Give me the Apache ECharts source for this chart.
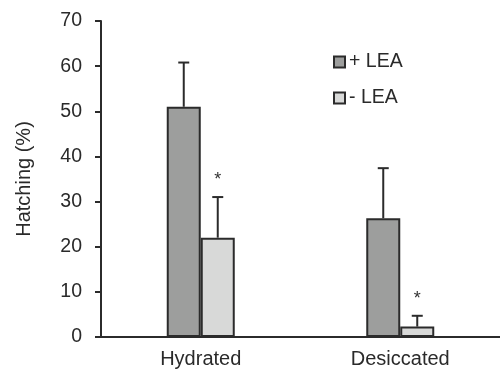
<!DOCTYPE html>
<html>
<head>
<meta charset="utf-8">
<script src="https://cdn.jsdelivr.net/npm/echarts@6/dist/echarts.min.js"></script>
<style>
  html, body { margin: 0; padding: 0; background: #fff; }
  #chart { width: 500px; height: 375px; }
</style>
</head>
<body>
<div id="chart"></div>
<script>
// values
const categories = ["Hydrated", "Desiccated"];
const seriesNames = ["+ LEA", "- LEA"];
const plusLea = [51, 26.3];
const minusLea = [22, 2.3];
const plusErr = [9.8, 11.1];
const minusErr = [9, 2.4];
const plusSig = ["", ""];
const minusSig = ["*", "*"];
const yTicks = [0, 10, 20, 30, 40, 50, 60, 70];

const chart = echarts.init(document.getElementById("chart"));
const BAR_W = 34;
const ink = "#2b2b2b";
const font = "'Liberation Sans', Arial, sans-serif";

// error bar + asterisk drawn at the top of each bar
function errorSeries(values, errs, sigs, side) {
  return {
    type: "custom",
    silent: true,
    z: 5,
    data: values.map((v, i) => [i, v, errs[i]]),
    renderItem: function (params, api) {
      const i = api.value(0);
      const top = api.coord([i, api.value(1)]);
      const hi = api.coord([i, api.value(1) + api.value(2)]);
      const x = top[0] + side * BAR_W / 2;
      const style = { stroke: ink, lineWidth: 2 };
      const children = [
        { type: "line", shape: { x1: x, y1: top[1], x2: x, y2: hi[1] }, style: style },
        { type: "line", shape: { x1: x - 5.5, y1: hi[1], x2: x + 5.5, y2: hi[1] }, style: style }
      ];
      if (sigs[i]) {
        children.push({
          type: "text",
          style: {
            text: sigs[i], x: x, y: hi[1] - 8,
            textAlign: "center", textVerticalAlign: "bottom",
            font: "18px " + font, fill: "#333"
          }
        });
      }
      return { type: "group", children: children };
    }
  };
}

const option = {
  animation: false,
  textStyle: { fontFamily: font },
  grid: { left: 101, right: -5, top: 21, bottom: 38 },
  legend: {
    orient: "vertical",
    left: 328,
    top: 47,
    itemWidth: 11,
    itemHeight: 11,
    itemGap: 16,
    icon: "rect",
    textStyle: { fontSize: 19.5, color: "#2a2a2a", padding: [0, 0, 0, -1] },
    data: seriesNames
  },
  xAxis: {
    type: "category",
    data: categories,
    axisLine: { lineStyle: { color: ink, width: 2 } },
    axisTick: { length: 6, lineStyle: { color: ink, width: 2 } },
    axisLabel: { fontSize: 20, color: "#2a2a2a", margin: 12 }
  },
  yAxis: {
    type: "value",
    min: yTicks[0],
    max: yTicks[yTicks.length - 1],
    interval: 10,
    name: "Hatching (%)",
    nameLocation: "middle",
    nameGap: 67,
    nameTextStyle: { fontSize: 20, color: "#2a2a2a" },
    splitLine: { show: false },
    axisLine: { show: true, lineStyle: { color: ink, width: 2 } },
    axisTick: { show: true, length: 6, lineStyle: { color: ink, width: 2 } },
    axisLabel: { fontSize: 19.5, color: "#2a2a2a", margin: 19 }
  },
  series: [
    {
      name: seriesNames[0],
      type: "bar",
      barWidth: BAR_W,
      barGap: "0%",
      data: plusLea,
      itemStyle: { color: "#9d9e9d", borderColor: ink, borderWidth: 2 }
    },
    {
      name: seriesNames[1],
      type: "bar",
      barWidth: BAR_W,
      data: minusLea,
      itemStyle: { color: "#d8d9d8", borderColor: ink, borderWidth: 2 }
    },
    errorSeries(plusLea, plusErr, plusSig, -1),
    errorSeries(minusLea, minusErr, minusSig, 1)
  ]
};

chart.setOption(option);
</script>
</body>
</html>
